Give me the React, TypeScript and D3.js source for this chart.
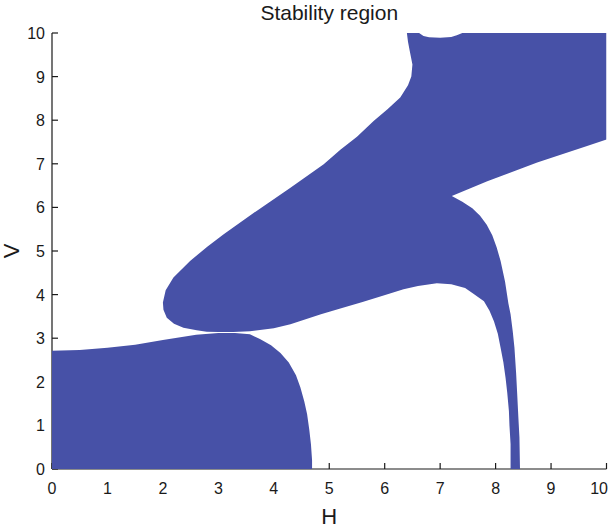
import React from "react";
import * as d3 from "d3";

// Tick values
const xTicks = [0, 1, 2, 3, 4, 5, 6, 7, 8, 9, 10];
const yTicks = [0, 1, 2, 3, 4, 5, 6, 7, 8, 9, 10];

// Lower-left stable region boundary, [H, V]
const lowerRegion: [number, number][] = [
  [0, 0], [0, 2.71], [0.5, 2.73], [1.0, 2.78], [1.5, 2.85], [2.0, 2.96],
  [2.6, 3.08], [3.0, 3.12], [3.3, 3.12], [3.57, 3.09], [3.75, 2.98],
  [3.95, 2.84], [4.12, 2.66], [4.27, 2.44], [4.4, 2.15], [4.48, 1.87],
  [4.55, 1.55], [4.6, 1.26], [4.64, 0.9], [4.67, 0.57], [4.69, 0.2], [4.69, 0],
];

// Upper stable region boundary, [H, V]
const upperRegion: [number, number][] = [
  [2.0, 3.82], [2.05, 4.1], [2.19, 4.39], [2.49, 4.77], [2.8, 5.1], [3.09, 5.38],
  [3.69, 5.92], [4.3, 6.45], [4.9, 6.99], [5.2, 7.32], [5.5, 7.62], [5.8, 7.98],
  [6.05, 8.25], [6.28, 8.52], [6.42, 8.8], [6.48, 9.0], [6.5, 9.28], [6.45, 9.6],
  [6.42, 9.8], [6.4, 10], [6.62, 10], [6.7, 9.93], [6.8, 9.9], [7.0, 9.89],
  [7.2, 9.91], [7.3, 9.95], [7.4, 10], [10, 10], [10, 7.56], [9.65, 7.41],
  [8.75, 7.03], [7.85, 6.6], [7.21, 6.26], [7.4, 6.13], [7.58, 5.98],
  [7.72, 5.81], [7.84, 5.6], [7.94, 5.36], [8.02, 5.08], [8.09, 4.77],
  [8.17, 4.3], [8.23, 3.8], [8.27, 3.55], [8.31, 3.15], [8.34, 2.78],
  [8.37, 2.2], [8.39, 1.71], [8.41, 1.2], [8.43, 0.72], [8.44, 0],
  [8.27, 0], [8.27, 0.57], [8.25, 1.0], [8.24, 1.33], [8.21, 1.75],
  [8.18, 2.09], [8.14, 2.45], [8.09, 2.78], [8.04, 3.1], [7.97, 3.39],
  [7.89, 3.63], [7.79, 3.85], [7.6, 4.02], [7.45, 4.15], [7.2, 4.24],
  [6.94, 4.26], [6.6, 4.2], [6.34, 4.12], [5.95, 3.97], [5.6, 3.83],
  [5.2, 3.68], [4.85, 3.55], [4.3, 3.32], [4.0, 3.23], [3.57, 3.16],
  [3.27, 3.14], [3.0, 3.14], [2.79, 3.15], [2.61, 3.18], [2.37, 3.24],
  [2.2, 3.33], [2.07, 3.47], [2.01, 3.65],
];

const W = 609;
const H = 528;
const FILL = "#4751a7";
const INK = "#1a1a1a";
const FONT = "'Liberation Sans', Arial, sans-serif";

export default function App() {
  const x = d3.scaleLinear().domain([0, 10]).range([52, 606.5]);
  const y = d3.scaleLinear().domain([0, 10]).range([469, 33]);
  const line = d3
    .line<[number, number]>()
    .x((d) => x(d[0]))
    .y((d) => y(d[1]))
    .curve(d3.curveLinear);

  return (
    <svg
      width={W}
      height={H}
      style={{ position: "absolute", left: 0, top: 0, background: "#fff" }}
    >
      <defs>
        <clipPath id="plotClip">
          <rect x={x(0)} y={y(10)} width={x(10) - x(0)} height={y(0) - y(10)} />
        </clipPath>
      </defs>
      {/* axes */}
      <g stroke={INK} strokeWidth={1.2} fill="none">
        <line x1={x(0)} y1={y(0)} x2={x(10)} y2={y(0)} />
        <line x1={x(0)} y1={y(0)} x2={x(0)} y2={y(10)} />
        {xTicks.map((t) => (
          <line key={"xt" + t} x1={x(t)} x2={x(t)} y1={y(0)} y2={y(0) - 6} />
        ))}
        {yTicks.map((t) => (
          <line key={"yt" + t} x1={x(0)} x2={x(0) + 6} y1={y(t)} y2={y(t)} />
        ))}
      </g>
      <g clipPath="url(#plotClip)">
        <path d={line(lowerRegion) + "Z"} fill={FILL} />
        <path d={line(upperRegion) + "Z"} fill={FILL} />
      </g>
      <g fontFamily={FONT} fontSize={16} fill={INK}>
        {xTicks.map((t) => {
          const last = t === 10;
          return (
            <text
              key={"xl" + t}
              x={last ? W - 1 : x(t)}
              y={y(0) + 25}
              textAnchor={last ? "end" : "middle"}
            >
              {t}
            </text>
          );
        })}
        {yTicks.map((t) => (
          <text key={"yl" + t} x={x(0) - 7} y={y(t) + 6} textAnchor="end">
            {t}
          </text>
        ))}
      </g>
      <text
        x={x(5)}
        y={20}
        textAnchor="middle"
        fontFamily={FONT}
        fontSize={21}
        fill={INK}
      >
        Stability region
      </text>
      <text
        x={x(5)}
        y={524}
        textAnchor="middle"
        fontFamily={FONT}
        fontSize={22}
        fill={INK}
      >
        H
      </text>
      <text
        transform={`translate(19, ${y(5)}) rotate(-90)`}
        textAnchor="middle"
        fontFamily={FONT}
        fontSize={22}
        fill={INK}
      >
        V
      </text>
    </svg>
  );
}
